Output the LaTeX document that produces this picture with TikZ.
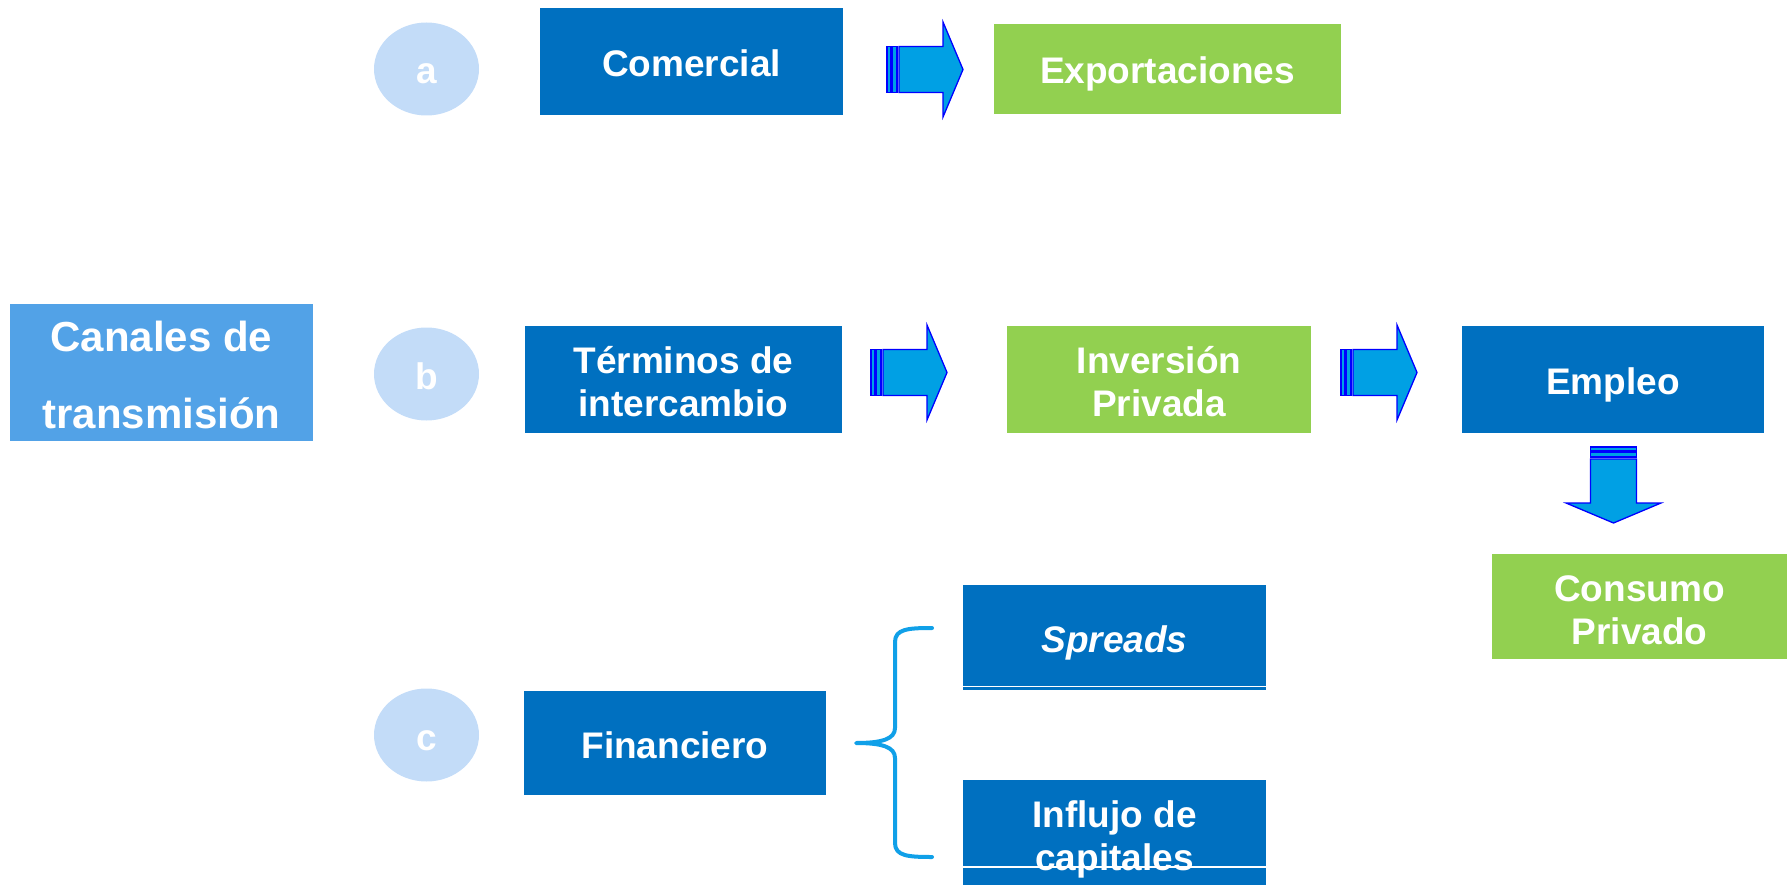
\documentclass[tikz,border=0pt]{standalone}
\usepackage{fontspec}
\setmainfont{Liberation Sans}
\usetikzlibrary{shapes.geometric,calc}
\definecolor{dblue}{HTML}{0070C0}
\definecolor{lgreen}{HTML}{92D050}
\definecolor{cblue}{HTML}{52A2E7}
\definecolor{circ}{HTML}{C3DCF8}
\definecolor{arrfill}{HTML}{00A0E4}
\definecolor{arredge}{HTML}{0000FF}
\definecolor{bracec}{HTML}{10A0E8}
% strut for single lines: baseline about 15pt below the box centre
\newcommand{\onestrut}{\rule[-8pt]{0pt}{46pt}}
% strut for the first of two lines
\newcommand{\topstrut}[1]{\rule{0pt}{#1}}
\tikzset{
  box/.style={rectangle, inner sep=0pt, text=white, align=center,
    font=\bfseries\fontsize{37}{43}\selectfont},
  bluebox/.style={box, fill=dblue},
  greenbox/.style={box, fill=lgreen},
  lettercircle/.style={ellipse, fill=circ, inner sep=0pt, text=white,
    minimum width=105pt, minimum height=93pt,
    font=\bfseries\fontsize{37}{43}\selectfont},
  arrowpart/.style={fill=arrfill, draw=arredge, line width=1.3pt, line join=miter},
  blockarrow/.pic={
    \path[arrowpart] (0,-23) rectangle (4,23);
    \path[arrowpart] (5.5,-23) rectangle (10,23);
    \path[arrowpart] (12,-23) -- (56,-23) -- (56,-47.5) -- (76,0) -- (56,47.5) -- (56,23) -- (12,23) -- cycle;
  },
  whiteline/.style={white, line width=1.5pt},
  bracestyle/.style={draw=bracec, line width=4pt, line cap=round, line join=round}
}
\begin{document}
\begin{tikzpicture}[x=1pt,y=-1pt]
\useasboundingbox (0,0) rectangle (1787,885);
% left title
\node[box, fill=cblue, minimum width=303pt, minimum height=137pt,
  font=\bfseries\fontsize{42}{77}\selectfont] (can) at (161.5,372.5) {\topstrut{35pt}Canales de\\transmisión};
% letters
\node[lettercircle] (ca) at (426.5,69) {\onestrut a};
\node[lettercircle] (cb) at (426.5,374) {\onestrut b};
\node[lettercircle] (cc) at (426.5,735) {\onestrut c};
% row a
\node[bluebox, minimum width=303pt, minimum height=107pt] (com) at (691.5,61.5) {\onestrut Comercial};
\node[greenbox, minimum width=347pt, minimum height=90pt] (exp) at (1167.5,69) {\onestrut Exportaciones};
% row b
\node[bluebox, minimum width=317pt, minimum height=107pt] (ter) at (683.5,379.5) {\topstrut{31pt}Términos de\\intercambio};
\node[greenbox, minimum width=304pt, minimum height=107pt] (inv) at (1159,379.5) {\topstrut{31pt}Inversión\\Privada};
\node[bluebox, minimum width=302pt, minimum height=107pt] (emp) at (1613,379.5) {\onestrut Empleo};
\node[greenbox, minimum width=295pt, minimum height=105pt] (con) at (1639.5,606.5) {\topstrut{33pt}Consumo\\Privado};
% row c
\node[bluebox, minimum width=302pt, minimum height=104pt] (fin) at (675,743) {\onestrut Financiero};
\node[bluebox, minimum width=303pt, minimum height=105pt] (spr) at (1114.5,637.5) {\onestrut\itshape Spreads};
\node[bluebox, minimum width=303pt, minimum height=105pt] (inf) at (1114.5,832.5) {\topstrut{41pt}Influjo de\\capitales};
\draw[whiteline] ($(spr.south west)+(0,-3.5)$) -- ($(spr.south east)+(0,-3.5)$);
\draw[whiteline] ($(inf.south west)+(0,-18)$) -- ($(inf.south east)+(0,-18)$);
% block arrows
\pic at (887,69.5) {blockarrow};
\pic at (871,372.5) {blockarrow};
\pic at (1341,372.5) {blockarrow};
\pic[rotate=-90] at (1613.5,447) {blockarrow};
% brace
\path[bracestyle] (932,628) .. controls (908,628) and (895,629) .. (895,642)
  -- (895,728) .. controls (895,739) and (882,743) .. (856,743)
  .. controls (882,743) and (895,747) .. (895,758)
  -- (895,843) .. controls (895,856) and (908,857) .. (932,857);
\end{tikzpicture}
\end{document}
